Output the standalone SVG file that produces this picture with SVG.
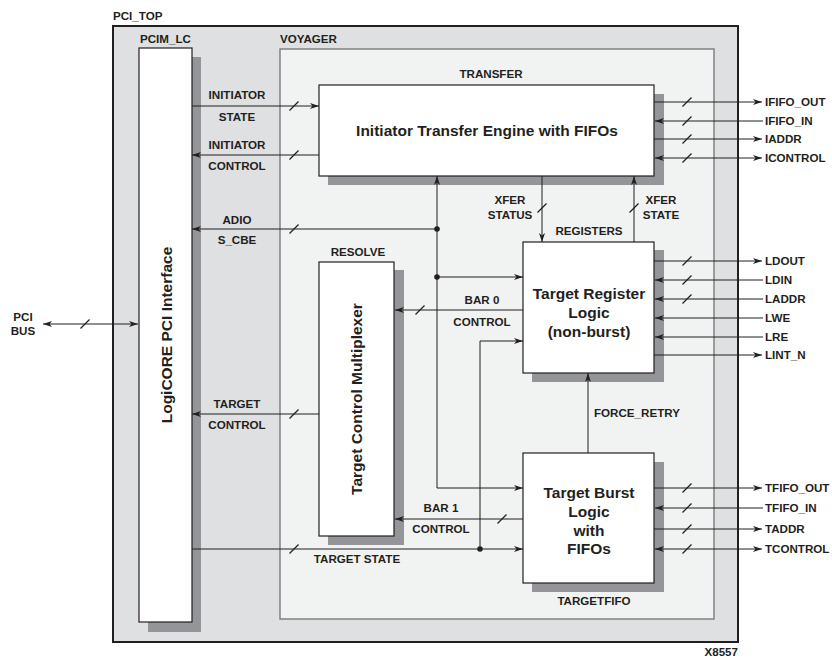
<svg xmlns="http://www.w3.org/2000/svg" width="832" height="658" viewBox="0 0 832 658">
<defs>
<style>
text{font-family:"Liberation Sans",Arial,sans-serif;font-weight:bold;fill:#231f20}
.s{font-size:11.6px}
.b{font-size:15.5px}
.m{text-anchor:middle}
.box{fill:#fff;stroke:#231f20;stroke-width:1.2}
.sh{fill:#939598}
.c{fill:none;stroke:#231f20;stroke-width:1}
.a{marker-end:url(#ah)}
.bi{marker-start:url(#ah);marker-end:url(#ah)}
.sl{stroke:#231f20;stroke-width:1.2}
</style>
<marker id="ah" markerUnits="userSpaceOnUse" markerWidth="10" markerHeight="7" refX="9" refY="3.5" orient="auto-start-reverse">
<path d="M0,0.5 L9,3.5 L0,6.5 L2.5,3.5 z" fill="#231f20"/>
</marker>
</defs>
<g id="pci_top">
<rect x="113" y="26" width="625" height="616" fill="#dfe0e1" stroke="#231f20" stroke-width="2"/>
<text class="s" x="113" y="20">PCI_TOP</text>
</g>
<g id="voyager">
<rect x="280" y="49" width="434" height="570" fill="#f1f2f2" stroke="#808285" stroke-width="1.5"/>
<text class="s" x="280" y="43">VOYAGER</text>
</g>
<g id="pcim_lc">
<rect class="sh" x="148" y="57" width="53" height="575"/>
<rect class="box" x="139" y="48" width="53" height="574"/>
<text class="s" x="140" y="43">PCIM_LC</text>
<text class="b m" x="171.5" y="335" transform="rotate(-90 171.5 335)">LogiCORE PCI Interface</text>
</g>
<g id="transfer">
<rect class="sh" x="328" y="94" width="336" height="91"/>
<rect class="box" x="319" y="85" width="335" height="91"/>
<text class="s m" x="491" y="78">TRANSFER</text>
<text class="b m" x="487" y="136">Initiator Transfer Engine with FIFOs</text>
</g>
<g id="registers">
<rect class="sh" x="532" y="250" width="132" height="132"/>
<rect class="box" x="523" y="242" width="131" height="131"/>
<text class="s m" x="589" y="235">REGISTERS</text>
<text class="b m" x="589" y="298.5">Target Register</text>
<text class="b m" x="589" y="317.5">Logic</text>
<text class="b m" x="589" y="336.5">(non-burst)</text>
</g>
<g id="resolve">
<rect class="sh" x="328" y="270" width="76" height="275"/>
<rect class="box" x="319" y="262" width="75" height="274"/>
<text class="s m" x="358" y="256">RESOLVE</text>
<text class="b m" x="361.5" y="399" transform="rotate(-90 361.5 399)">Target Control Multiplexer</text>
</g>
<g id="targetfifo">
<rect class="sh" x="532" y="462" width="132" height="130"/>
<rect class="box" x="523" y="453" width="131" height="130"/>
<text class="s m" x="594" y="605">TARGETFIFO</text>
<text class="b m" x="589" y="498">Target Burst</text>
<text class="b m" x="589" y="517">Logic</text>
<text class="b m" x="589" y="536">with</text>
<text class="b m" x="589" y="554">FIFOs</text>
</g>
<g id="connectors">
<path class="c a" d="M192,106 H319"/>
<path class="c a" d="M319,155 H192"/>
<path class="c a" d="M437,229 H192"/>
<path class="c bi" d="M437,176 V488 H523"/>
<path class="c a" d="M437,277 H523"/>
<path class="c a" d="M542,176 V242"/>
<path class="c a" d="M634,242 V176"/>
<path class="c a" d="M523,310 H395"/>
<path class="c a" d="M480,549 V341 H523"/>
<path class="c a" d="M319,414 H192"/>
<path class="c a" d="M523,519 H395"/>
<path class="c a" d="M192,549 H523"/>
<path class="c a" d="M588,453 V373"/>
<path class="c bi" d="M43,324 H138"/>
<path class="c a" d="M654,102 H762"/>
<path class="c a" d="M763,121 H655"/>
<path class="c a" d="M654,139 H762"/>
<path class="c bi" d="M655,158 H762"/>
<path class="c a" d="M654,261 H762"/>
<path class="c a" d="M763,280 H655"/>
<path class="c a" d="M763,299 H655"/>
<path class="c a" d="M763,318 H655"/>
<path class="c a" d="M763,337 H655"/>
<path class="c a" d="M654,355 H762"/>
<path class="c a" d="M654,488 H762"/>
<path class="c a" d="M763,508 H655"/>
<path class="c a" d="M654,529 H762"/>
<path class="c bi" d="M655,549 H762"/>
<g fill="#231f20">
<circle cx="437" cy="229" r="2.8"/>
<circle cx="437" cy="277" r="2.8"/>
<circle cx="480" cy="549" r="2.8"/>
</g>
<g class="sl">
<line x1="289.5" y1="110.5" x2="298.5" y2="101.5"/>
<line x1="289.5" y1="159.5" x2="298.5" y2="150.5"/>
<line x1="289.5" y1="233.5" x2="298.5" y2="224.5"/>
<line x1="289.5" y1="418.5" x2="298.5" y2="409.5"/>
<line x1="289.5" y1="553.5" x2="298.5" y2="544.5"/>
<line x1="80.5" y1="328.5" x2="89.5" y2="319.5"/>
<line x1="537.5" y1="212.5" x2="546.5" y2="203.5"/>
<line x1="629.5" y1="212.5" x2="638.5" y2="203.5"/>
<line x1="415.5" y1="314.5" x2="424.5" y2="305.5"/>
<line x1="497.5" y1="523.5" x2="506.5" y2="514.5"/>
<line x1="682.5" y1="106.5" x2="691.5" y2="97.5"/>
<line x1="682.5" y1="125.5" x2="691.5" y2="116.5"/>
<line x1="682.5" y1="143.5" x2="691.5" y2="134.5"/>
<line x1="682.5" y1="162.5" x2="691.5" y2="153.5"/>
<line x1="682.5" y1="265.5" x2="691.5" y2="256.5"/>
<line x1="682.5" y1="284.5" x2="691.5" y2="275.5"/>
<line x1="682.5" y1="303.5" x2="691.5" y2="294.5"/>
<line x1="682.5" y1="492.5" x2="691.5" y2="483.5"/>
<line x1="682.5" y1="512.5" x2="691.5" y2="503.5"/>
<line x1="682.5" y1="533.5" x2="691.5" y2="524.5"/>
<line x1="682.5" y1="553.5" x2="691.5" y2="544.5"/>
</g>
<g class="s">
<text class="m" x="237" y="99">INITIATOR</text>
<text class="m" x="237" y="121">STATE</text>
<text class="m" x="237" y="149">INITIATOR</text>
<text class="m" x="237" y="170">CONTROL</text>
<text class="m" x="237" y="224">ADIO</text>
<text class="m" x="237" y="244">S_CBE</text>
<text class="m" x="237" y="408">TARGET</text>
<text class="m" x="237" y="429">CONTROL</text>
<text class="m" x="482" y="304">BAR 0</text>
<text class="m" x="482" y="326">CONTROL</text>
<text class="m" x="441" y="512">BAR 1</text>
<text class="m" x="441" y="533">CONTROL</text>
<text class="m" x="357" y="563">TARGET STATE</text>
<text class="m" x="510" y="204">XFER</text>
<text class="m" x="510" y="219">STATUS</text>
<text class="m" x="661" y="204">XFER</text>
<text class="m" x="661" y="219">STATE</text>
<text x="594" y="417">FORCE_RETRY</text>
<text class="m" x="23" y="321">PCI</text>
<text class="m" x="23" y="335">BUS</text>
<text x="765" y="106">IFIFO_OUT</text>
<text x="765" y="125">IFIFO_IN</text>
<text x="765" y="143">IADDR</text>
<text x="765" y="162">ICONTROL</text>
<text x="765" y="265">LDOUT</text>
<text x="765" y="284">LDIN</text>
<text x="765" y="303">LADDR</text>
<text x="765" y="322">LWE</text>
<text x="765" y="341">LRE</text>
<text x="765" y="359">LINT_N</text>
<text x="765" y="492">TFIFO_OUT</text>
<text x="765" y="512">TFIFO_IN</text>
<text x="765" y="533">TADDR</text>
<text x="765" y="553">TCONTROL</text>
<text x="738" y="656" text-anchor="end">X8557</text>
</g>
</g>
</svg>
